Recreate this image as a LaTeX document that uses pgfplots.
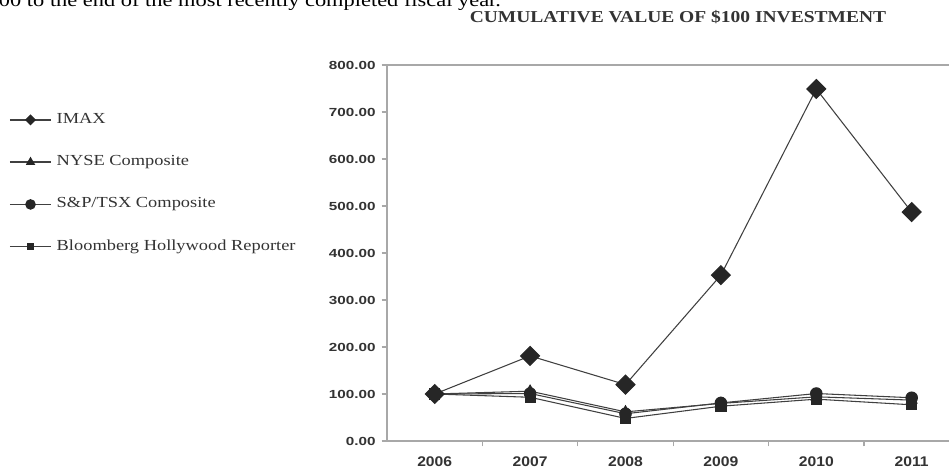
\documentclass[border=0pt]{standalone}
\usepackage{graphicx}
\usepackage{pgfplots}
\pgfplotsset{compat=1.18}
\usepackage{fontspec}
\setmainfont{Liberation Serif}
\newfontfamily\arialf{Liberation Sans}
\definecolor{axgray}{HTML}{A8A8A8}
\definecolor{ln}{HTML}{404040}
\definecolor{mk}{HTML}{262626}
\definecolor{txt}{HTML}{333333}
\newcommand\sx[2]{\scalebox{#1}[1]{#2}}

\begin{document}
\begin{tikzpicture}
\begin{axis}[
  at={(290.25pt,21.75pt)}, anchor=south west,
  scale only axis, width=421.5pt, height=282pt,
  xmin=-0.5, xmax=5.391, ymin=0, ymax=800,
  clip=false,
  axis x line*=bottom, axis y line*=left,
  axis line style={axgray, line width=1.5pt},
  tick align=outside,
  tick style={axgray, line width=1pt},
  xtick={0.5,1.5,2.5,3.5,4.5}, xticklabels={},
  major tick length=4pt,
  extra x ticks={0,1,2,3,4,5},
  extra x tick labels={2006,2007,2008,2009,2010,2011},
  extra x tick style={major tick length=0pt},
  xticklabel style={font=\arialf\bfseries\fontsize{10.5}{12}\selectfont, text=txt, xscale=1.12, yshift=-8pt},
  ytick={0,100,...,800},
  yticklabel style={/pgf/number format/fixed, /pgf/number format/fixed zerofill, /pgf/number format/precision=2, /pgf/number format/assume math mode=true, font=\arialf\bfseries\fontsize{8.8}{10}\selectfont, text=txt, xscale=1.3},
  extra y ticks={800}, extra y tick labels={},
  extra y tick style={grid=major, major grid style={axgray, line width=1.5pt}, major tick length=0pt},
  legend style={at={(-0.6726,0.8742)}, anchor=north west, draw=none, fill=none, inner sep=0pt, row sep=20.7pt, column sep=3.75pt, font=\fontsize{11.5}{13}\selectfont, text=txt, nodes={inner sep=0pt, text height=8pt, text depth=3pt}},
  legend cell align=left,
  legend image code/.code={\draw[mark repeat=2,mark phase=2,#1] plot coordinates {(0pt,0pt) (15.4pt,0pt) (30.75pt,0pt)};},
]
% Bloomberg Hollywood Reporter
\addplot[ln, line width=0.8pt, mark=square*, mark size=3.8pt, mark options={draw=mk, fill=mk}, forget plot]
  coordinates {(0,100) (1,93) (2,48) (3,74) (4,89) (5,77)};
% S&P/TSX Composite
\addplot[ln, line width=0.8pt, mark=*, mark size=4.3pt, mark options={draw=mk, fill=mk}, forget plot]
  coordinates {(0,100) (1,101) (2,58) (3,81) (4,101) (5,92)};
% NYSE Composite
\addplot[ln, line width=0.8pt, mark=triangle*, mark size=4.5pt, mark options={draw=mk, fill=mk}, forget plot]
  coordinates {(0,100) (1,106) (2,62) (3,80) (4,94) (5,87)};
% IMAX
\addplot[ln, line width=0.8pt, mark=square*, mark size=5pt, mark options={draw=mk, fill=mk, rotate=45}, forget plot]
  coordinates {(0,100) (1,181) (2,120) (3,353) (4,749) (5,487)};

\addlegendimage{ln, line width=1.1pt, mark=square*, mark size=2.4pt, mark options={draw=mk, fill=mk, rotate=45}}
\addlegendentry{\sx{1.2}{IMAX}}
\addlegendimage{ln, line width=1.1pt, mark=triangle*, mark size=3pt, mark options={draw=mk, fill=mk}}
\addlegendentry{\sx{1.2}{NYSE Composite}}
\addlegendimage{ln, line width=1.1pt, mark=*, mark size=3.4pt, mark options={draw=mk, fill=mk}}
\addlegendentry{\sx{1.2}{S\&P/TSX Composite}}
\addlegendimage{ln, line width=1.1pt, mark=square*, mark size=2.2pt, mark options={draw=mk, fill=mk}}
\addlegendentry{\sx{1.2}{Bloomberg Hollywood Reporter}}
\end{axis}
\node[anchor=base, inner sep=0pt, font=\bfseries\fontsize{12.5}{14}\selectfont, text=txt, xscale=1.17] at (508.5pt,335.25pt) {CUMULATIVE VALUE OF \$100 INVESTMENT};
\node[anchor=base west, inner sep=0pt, font=\fontsize{14}{16}\selectfont, text=black, xscale=1.2] at (-1pt,347.25pt) {00 to the end of the most recently completed fiscal year.};
\pgfresetboundingbox
\path[use as bounding box] (0pt,0pt) rectangle (711.75pt,352.5pt);
\end{tikzpicture}
\end{document}
